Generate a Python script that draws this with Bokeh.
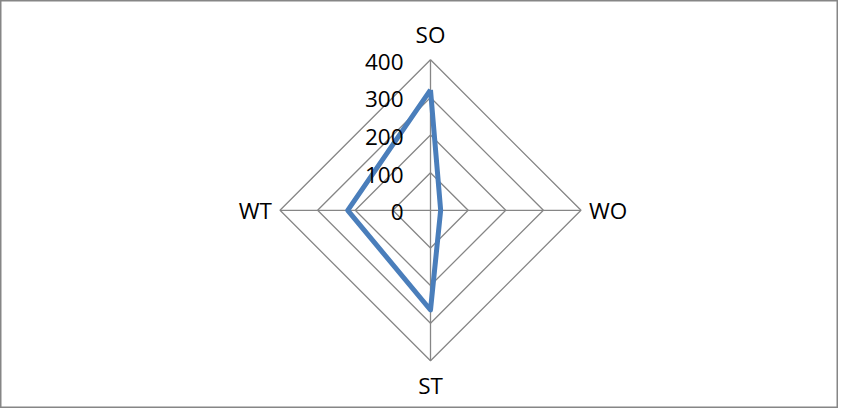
import numpy as np
from bokeh.plotting import figure
from bokeh.models import Range1d, ColumnDataSource
from bokeh.core.properties import value
from bokeh.embed import file_html
from bokeh.resources import INLINE

# data
categories = ["SO", "WO", "ST", "WT"]
series_values = [320, 27, 265, 220]
tick_values = [0, 100, 200, 300, 400]
tick_labels = ["0", "100", "200", "300", "400"]

# layout constants (pixels)
W, H = 838, 408
cx_px, cy_px = 430.0, 209.8        # centre inside figure
r_px = 150.5                         # pixel radius of the 400 ring
vmax = 400.0
k = r_px / vmax                      # px per value unit

p = figure(width=W, height=H, output_backend="svg", toolbar_location=None,
           x_range=Range1d(-cx_px / k, (W - cx_px) / k),
           y_range=Range1d(-(H - cy_px) / k, cy_px / k),
           min_border=0)
p.axis.visible = False
p.grid.visible = False
p.outline_line_color = "#868686"
p.outline_line_width = 2
p.background_fill_color = "white"
p.border_fill_color = "white"

n = len(categories)
angles = np.pi / 2 - np.arange(n) * 2 * np.pi / n   # clockwise from top
grid_color = "#868686"

# rings
for t in tick_values[1:]:
    xs = list(t * np.cos(angles)) + [t * np.cos(angles[0])]
    ys = list(t * np.sin(angles)) + [t * np.sin(angles[0])]
    p.line(xs, ys, line_color=grid_color, line_width=1.3)

# spokes
for a in angles:
    p.line([0, vmax * np.cos(a)], [0, vmax * np.sin(a)], line_color=grid_color, line_width=1.3)

# series
vals = np.array(series_values, dtype=float)
sx = list(vals * np.cos(angles)) + [vals[0] * np.cos(angles[0])]
sy = list(vals * np.sin(angles)) + [vals[0] * np.sin(angles[0])]
p.line(sx, sy, line_color="#4a7ebb", line_width=5, line_join="round")

font = value("Open Sans")
# tick labels
p.text(x=[0] * len(tick_values), y=tick_values, text=tick_labels,
       text_font=font, text_font_size="22.5px", text_color="black",
       text_align="right", text_baseline="middle", x_offset=-27, y_offset=2)

# category labels
lx = vmax * np.cos(angles)
ly = vmax * np.sin(angles)
aligns = ["center", "left", "center", "right"]
xoffs = [0, 8, 0, -8]
yoffs = [-25, 0, 25, 0]
src = ColumnDataSource(dict(x=lx, y=ly, text=categories, align=aligns, xo=xoffs, yo=yoffs))
p.text(x="x", y="y", text="text", source=src, text_font=font, text_font_size="22.5px",
       text_color="black", text_align="align", text_baseline="middle",
       x_offset="xo", y_offset="yo")

open("out.html", "w").write(file_html(p, INLINE))
